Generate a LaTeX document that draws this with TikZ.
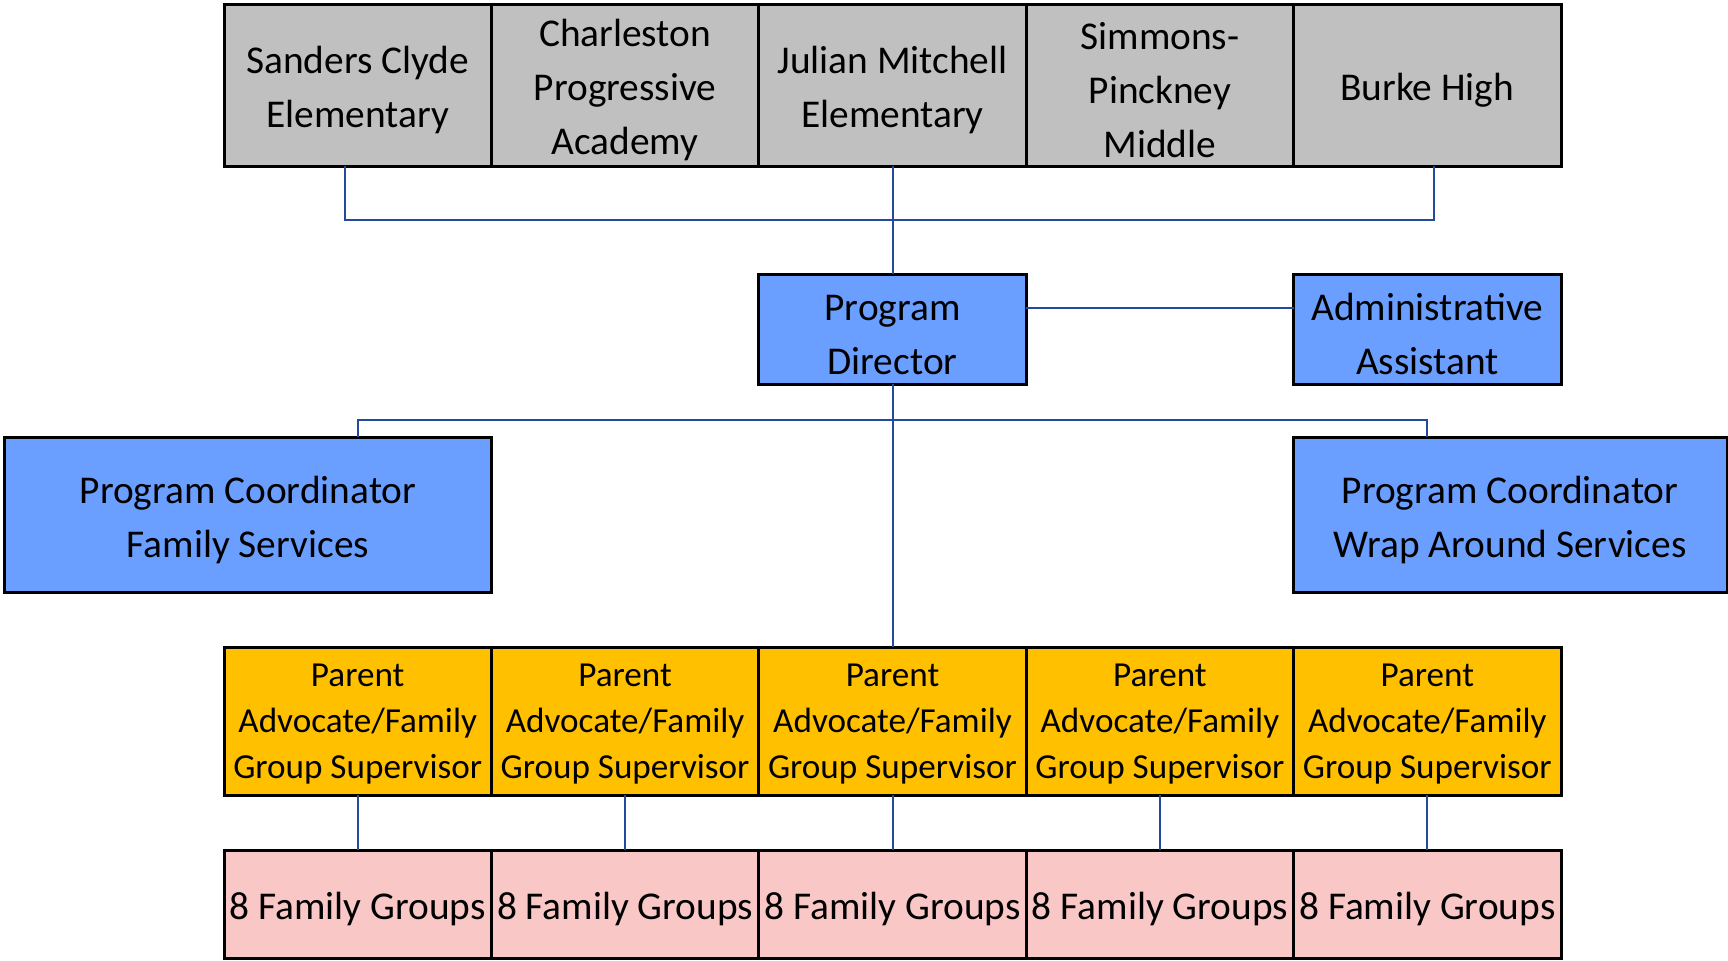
\documentclass[tikz,border=0pt]{standalone}
\usepackage{fontspec}
\setmainfont{Carlito}
\usepackage{tikz}
\usetikzlibrary{positioning}
\definecolor{schoolgray}{RGB}{192,192,192}
\definecolor{staffblue}{RGB}{106,158,255}
\definecolor{parentgold}{RGB}{255,192,0}
\definecolor{grouppink}{RGB}{250,199,199}
\definecolor{linkblue}{RGB}{35,75,155}
\newcommand{\boxstrut}{\rule{0pt}{10.7pt}}
\newcommand{\parentstrut}{\rule{0pt}{7.9pt}}

\begin{document}
\begin{tikzpicture}[x=0.1mm,y=-0.1mm,
    box/.style={draw=black,line width=0.3mm,align=center,inner sep=0pt,outer sep=0pt,
      font=\fontsize{11.2}{15.4}\selectfont},
    school/.style={box,fill=schoolgray,minimum width=26.74mm,minimum height=16.2mm},
    staff/.style={box,fill=staffblue},
    parent/.style={box,fill=parentgold,minimum width=26.74mm,minimum height=14.8mm,
      font=\fontsize{10}{13.1}\selectfont},
    famgroup/.style={box,fill=grouppink,minimum width=26.74mm,minimum height=10.8mm},
    link/.style={draw=linkblue,line width=0.2mm}]

    \useasboundingbox (0,0) rectangle (1728,960);

    \node[school] (s1) at (357.7,85) {\boxstrut Sanders Clyde\\Elementary};
    \node[school] (s2) at (625.1,85) {\boxstrut Charleston\\Progressive\\Academy};
    \node[school] (s3) at (892.5,85) {\boxstrut Julian Mitchell\\Elementary};
    \node[school] (s4) at (1159.9,85) {\boxstrut Simmons-\\Pinckney\\Middle};
    \node[school] (s5) at (1427.3,85) {\boxstrut Burke High};

    \node[staff,minimum width=26.74mm,minimum height=11mm] (pd) at (892.5,329) {\boxstrut Program\\Director};
    \node[staff,minimum width=26.74mm,minimum height=11mm] (aa) at (1427.3,329) {\boxstrut Administrative\\Assistant};

    \node[staff,minimum width=48.7mm,minimum height=15.55mm] (fs) at (248,515) {\boxstrut Program Coordinator\\Family Services};
    \node[staff,minimum width=43.4mm,minimum height=15.55mm] (wa) at (1510,515) {\boxstrut Program Coordinator\\Wrap Around Services};

    \foreach \i/\x in {1/357.7,2/625.1,3/892.5,4/1159.9,5/1427.3}{
        \node[parent] (pa\i) at (\x,721) {\parentstrut Parent\\Advocate/Family\\Group Supervisor};
        \node[famgroup] (fg\i) at (\x,904) {\boxstrut 8 Family Groups};
        \draw[link] (pa\i.south) -- (fg\i.north);
    }

    \coordinate (topbus) at (0,220);
    \coordinate (midbus) at (0,420);

    \draw[link] ([xshift=-1.3mm]s1.south) -- ([xshift=-1.3mm]s1.south |- topbus)
        -- ([xshift=0.7mm]s5.south |- topbus) -- ([xshift=0.7mm]s5.south);
    \draw[link] (s3.south) -- (pd.north);
    \draw[link] ([yshift=2.15mm]pd.east) -- ([yshift=2.15mm]aa.west);

    \draw[link] (pd.south) -- (pa3.north);
    \draw[link] (fs.north -| pa1) -- (pa1 |- midbus) -- (pa5 |- midbus) -- (wa.north -| pa5);
\end{tikzpicture}
\end{document}
